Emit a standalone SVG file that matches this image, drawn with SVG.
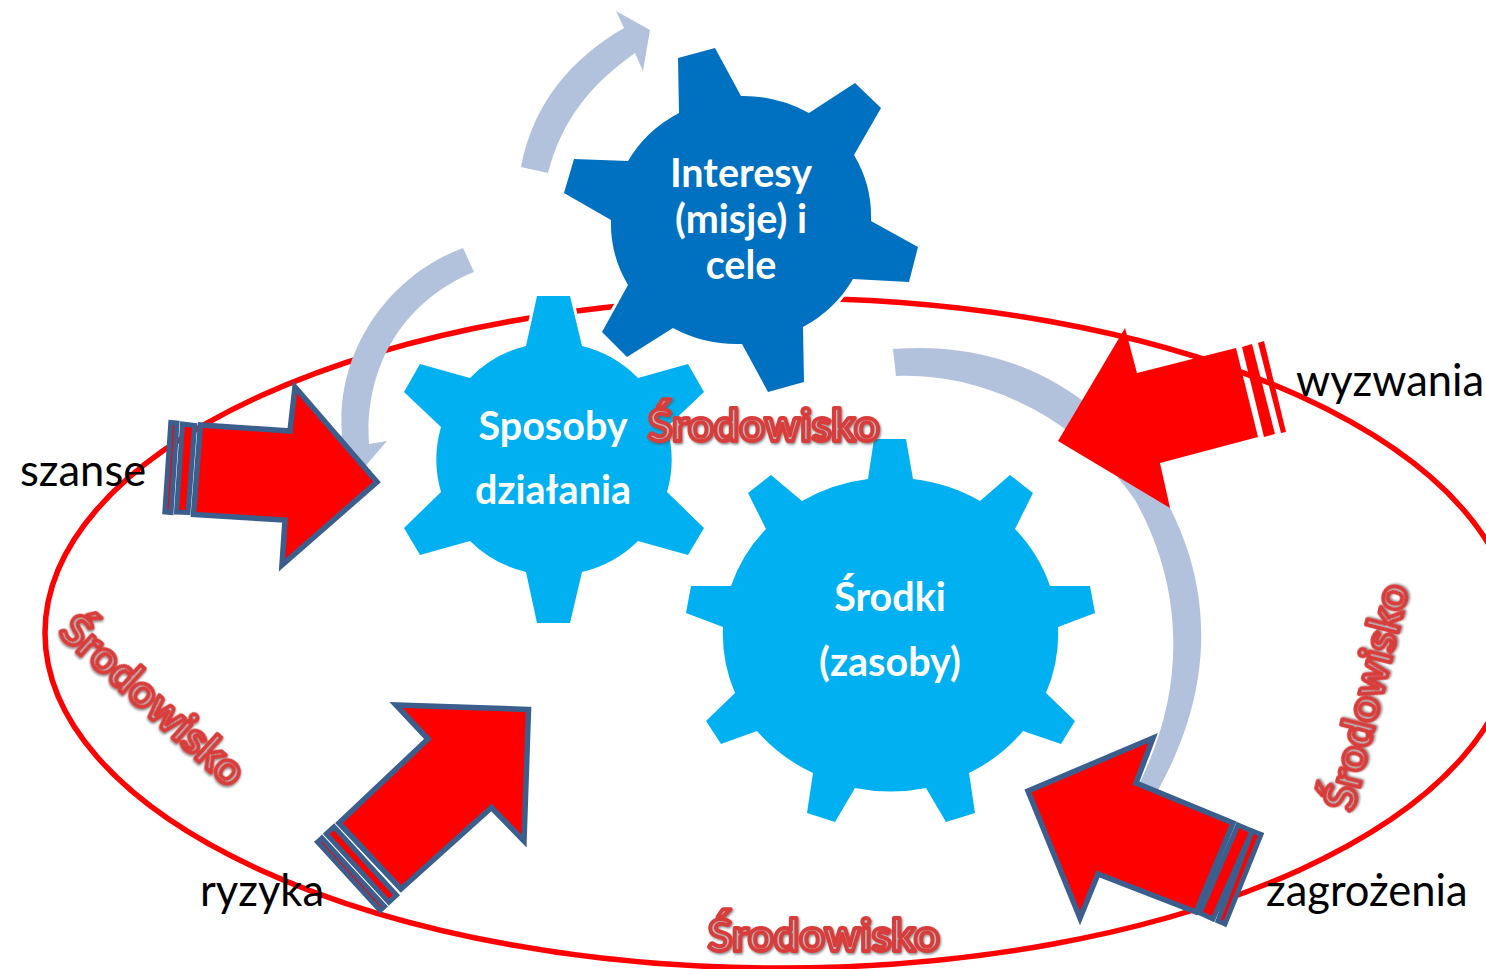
<svg xmlns="http://www.w3.org/2000/svg" width="1486" height="969" viewBox="0 0 1486 969">
<style>
.gear{stroke:#fff;stroke-width:6;paint-order:stroke;stroke-linejoin:miter}
.g1{fill:#0070c0}
.g2{fill:#00b0f0}
.gt{font-family:"Lato","Open Sans",sans-serif;font-weight:700;font-size:39.5px;fill:#fff;text-anchor:middle}
.lab{font-family:"Lato","Open Sans",sans-serif;font-size:43.5px;fill:#000}
.flow{fill:#b3c2dc}
.ar{fill:#f00;stroke:#3b5e8c;stroke-width:5.5;stroke-linejoin:miter;stroke-miterlimit:10}
.st{fill:#f00;stroke:#3b5e8c;stroke-width:5;stroke-linejoin:miter}
.env{font-family:"Lato","Open Sans",sans-serif;font-weight:700;font-size:44.7px;fill:#b4b8bc;stroke:#d93d3a;stroke-width:4;stroke-linejoin:round;filter:url(#sh)}
</style>
<defs>
<filter id="sh" x="-10%" y="-20%" width="120%" height="140%"><feDropShadow dx="1" dy="1.5" stdDeviation="1" flood-color="#555" flood-opacity="0.7"/></filter>
</defs>
<ellipse id="environment" cx="780" cy="633" rx="735" ry="335" fill="none" stroke="#f00" stroke-width="5.5"/>
<g id="connectors">
<path class="flow" d="M521,167 C533,103 572,58 624,28 L616,11 L650,30 L643,71 L635,53 C590,85 562,120 548,173 Z"/>
<path class="flow" d="M463,248 C390,275 335,350 342,435 L337,441 L362,470 L387,441 L369,444 C364,365 405,300 474,272 Z"/>
<path class="flow" d="M893,349 C1000,340 1100,385 1160,490 C1205,565 1225,670 1158,790 L1140,782 C1190,680 1180,580 1135,500 C1080,420 985,372 896,376 Z"/>
</g>
<g id="gear-interesy">
<path class="gear g1" d="M678,58 L715,48 L741,96 A130,124 0 0 1 809,113 L855,83 L881,108 L854,155 A130,124 0 0 1 871,221 L918,247 L909,282 L853,279 A130,124 0 0 1 803,327 L804,382 L768,392 L742,344 A130,124 0 0 1 673,328 L627,357 L602,332 L628,285 A130,124 0 0 1 611,220 L564,193 L574,159 L628,161 A130,124 0 0 1 679,113 Z"/>
<text class="gt" x="741" y="187">Interesy</text>
<text class="gt" x="741" y="233">(misje) i</text>
<text class="gt" x="741" y="279">cele</text>
</g>
<g id="gear-sposoby">
<path class="gear g2" d="M537,296 L570,296 L582,346 A117,117 0 0 1 638,378 L688,364 L704,392 L667,427 A117,117 0 0 1 667,492 L704,528 L688,555 L638,541 A117,117 0 0 1 582,572 L570,623 L537,623 L526,572 A117,117 0 0 1 470,541 L420,555 L404,528 L441,492 A117,117 0 0 1 441,427 L404,392 L420,364 L470,378 A117,117 0 0 1 526,346 Z"/>
<text class="gt" x="553" y="440">Sposoby</text>
<text class="gt" x="553" y="504">działania</text>
</g>
<g id="gear-srodki">
<path class="gear g2" d="M874,439 L906,439 L913,479 A168,157 0 0 1 980,501 L1010,475 L1033,493 L1015,529 A168,157 0 0 1 1050,586 L1090,586 L1095,613 L1058,627 A168,157 0 0 1 1046,693 L1075,721 L1061,744 L1023,731 A168,157 0 0 1 969,773 L975,813 L946,822 L926,788 A168,157 0 0 1 855,788 L835,822 L807,813 L813,773 A168,157 0 0 1 757,731 L721,744 L706,721 L735,693 A168,157 0 0 1 723,627 L686,613 L691,586 L731,586 A168,157 0 0 1 766,529 L748,493 L771,475 L802,501 A168,157 0 0 1 868,479 Z"/>
<text class="gt" x="890" y="611">Środki</text>
<text class="gt" x="890" y="676">(zasoby)</text>
</g>
<g id="arrow-wyzwania" fill="#f00">
<polygon points="1058,441 1125,328 1137,373 1236,348 1258,437 1160,463 1170,508"/>
<polygon points="1242,347 1252,344 1275,434 1264,437"/>
<polygon points="1258,343 1264,341 1286,432 1281,433"/>
</g>
<g id="arrow-szanse">
<polygon class="st" points="170.8,422.5 177,423 171,512.5 164.8,512"/>
<polygon class="st" points="182.5,424 194.7,425.5 188,512.5 176.5,512"/>
<polygon class="ar" points="377,482 295,387 290,431 200.5,425 193.5,514.5 285,520 282,565"/>
</g>
<g id="arrow-ryzyka">
<polygon class="st" points="317.5,842 321.9,838 384.5,906.4 380.1,910.5"/>
<polygon class="st" points="326.3,833.9 334,826.8 396.5,895.2 388.9,902.3"/>
<polygon class="ar" points="528.5,709.5 396,705 428,739 339,823 401,889 491.5,807.5 524,841"/>
</g>
<g id="arrow-zagrozenia">
<polygon class="st" points="1252,831 1261,834.5 1225,924 1218,921"/>
<polygon class="st" points="1238,825 1252,831 1213,919 1200,913"/>
<polygon class="ar" points="1028,791 1153,738 1136,783 1233,823 1196,912 1098,874 1080,918"/>
</g>
<g id="labels">
<text class="lab" x="20" y="486">szanse</text>
<text class="lab" x="1296" y="396">wyzwania</text>
<text class="lab" x="200" y="906">ryzyka</text>
<text class="lab" x="1266" y="906">zagrożenia</text>
<text class="env" x="648" y="441">Środowisko</text>
<text class="env" x="708" y="951">Środowisko</text>
<text class="env" transform="translate(57,634) rotate(42)">Środowisko</text>
<text class="env" transform="translate(1353,813) rotate(-76)">Środowisko</text>
</g>
</svg>
